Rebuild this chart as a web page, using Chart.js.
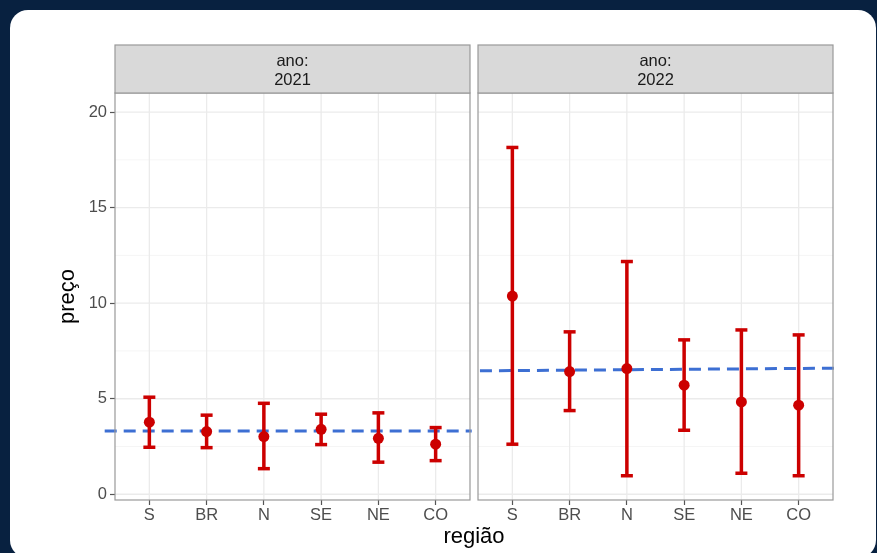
<!DOCTYPE html>
<html>
<head>
<meta charset="utf-8">
<script src="https://cdn.jsdelivr.net/npm/chart.js@4.4.1/dist/chart.umd.min.js"></script>
<style>
  html, body { margin: 0; padding: 0; width: 877px; height: 553px; overflow: hidden; background: #082140; }
  #card { position: absolute; left: 10px; top: 10px; width: 866px; height: 548px; background: #ffffff; border-radius: 18px; }
  #c { position: absolute; left: 0; top: 0; }
</style>
</head>
<body>
<div id="card"></div>
<canvas id="c" width="877" height="553"></canvas>
<script>
// Regiões e anos (facetas)
const regioes = ['S', 'BR', 'N', 'SE', 'NE', 'CO'];
const anos = ['2021', '2022'];

// Preço médio e intervalo por região, 2021
const media2021 = [3.77, 3.28, 3.02, 3.40, 2.93, 2.62];
const inf2021   = [2.46, 2.44, 1.34, 2.60, 1.68, 1.76];
const sup2021   = [5.08, 4.14, 4.76, 4.19, 4.26, 3.49];

// Preço médio e intervalo por região, 2022
const media2022 = [10.37, 6.42, 6.58, 5.71, 4.83, 4.66];
const inf2022   = [2.62, 4.38, 0.97, 3.35, 1.10, 0.97];
const sup2022   = [18.15, 8.50, 12.18, 8.08, 8.60, 8.34];

// Linha de referência (início, fim) em cada ano
const ref2021 = [3.31, 3.31];
const ref2022 = [6.46, 6.60];

// Marcas do eixo y
const yTicks = [0, 5, 10, 15, 20];
const yMinor = [2.5, 7.5, 12.5, 17.5];

// Geometria das facetas no eixo x contínuo
const EXP = 0.6;                   // expansão de cada lado da faceta
const GAP = 0.14;                  // espaço entre facetas
const N = regioes.length;
const panels = [0, 1].map(k => {
  const offset = k * (N - 1 + 2 * EXP + GAP);
  return { offset, min: offset - EXP, max: offset + N - 1 + EXP };
});
const pos = (k, i) => panels[k].offset + i;

const medias = [media2021, media2022];
const infs = [inf2021, inf2022];
const sups = [sup2021, sup2022];
const refs = [ref2021, ref2022];

const RED = '#cc0000';
const BLUE = '#3d6fd3';
const FONT = '"Liberation Sans", Arial, sans-serif';

const meanPoints = [];
const intervalPoints = [];
[0, 1].forEach(k => {
  regioes.forEach((r, i) => {
    meanPoints.push({ x: pos(k, i), y: medias[k][i] });
    intervalPoints.push({ x: pos(k, i), y: infs[k][i] });
    intervalPoints.push({ x: pos(k, i), y: sups[k][i] });
    intervalPoints.push({ x: pos(k, i), y: null });
  });
});

const refLine = (k, x0, x1) => ({
  type: 'line',
  data: [{ x: x0, y: refs[k][0] }, { x: x1, y: refs[k][1] }],
  borderColor: BLUE,
  borderWidth: 3,
  borderDash: [12, 7],
  pointRadius: 0,
  clip: false
});

const xTickValues = [];
[0, 1].forEach(k => regioes.forEach((r, i) => xTickValues.push(pos(k, i))));

// Painéis, grade e faixas de título das facetas
const facetPlugin = {
  id: 'facetas',
  beforeDatasetsDraw(chart) {
    const { ctx, chartArea, scales: { x, y } } = chart;
    panels.forEach(p => {
      const l = x.getPixelForValue(p.min), r = x.getPixelForValue(p.max);
      const t = chartArea.top, b = chartArea.bottom;
      ctx.save();
      ctx.strokeStyle = '#f3f3f3';
      ctx.lineWidth = 0.8;
      yMinor.forEach(v => {
        const py = y.getPixelForValue(v);
        ctx.beginPath(); ctx.moveTo(l, py); ctx.lineTo(r, py); ctx.stroke();
      });
      ctx.strokeStyle = '#ebebeb';
      ctx.lineWidth = 1.3;
      yTicks.forEach(v => {
        const py = y.getPixelForValue(v);
        ctx.beginPath(); ctx.moveTo(l, py); ctx.lineTo(r, py); ctx.stroke();
      });
      regioes.forEach((rg, i) => {
        const px = x.getPixelForValue(p.offset + i);
        ctx.beginPath(); ctx.moveTo(px, t); ctx.lineTo(px, b); ctx.stroke();
      });
      ctx.restore();
    });
  },
  afterDatasetsDraw(chart) {
    const { ctx, chartArea, scales: { x } } = chart;
    panels.forEach(p => {
      const l = x.getPixelForValue(p.min), r = x.getPixelForValue(p.max);
      ctx.save();
      ctx.strokeStyle = '#999999';
      ctx.lineWidth = 1.2;
      ctx.strokeRect(l, chartArea.top, r - l, chartArea.bottom - chartArea.top);
      ctx.restore();
    });
  },
  afterDraw(chart) {
    const { ctx, chartArea, scales: { x } } = chart;
    const stripTop = 45;
    panels.forEach((p, k) => {
      const l = x.getPixelForValue(p.min), r = x.getPixelForValue(p.max);
      ctx.save();
      ctx.fillStyle = '#d9d9d9';
      ctx.fillRect(l, stripTop, r - l, chartArea.top - stripTop);
      ctx.strokeStyle = '#999999';
      ctx.lineWidth = 1.2;
      ctx.strokeRect(l, stripTop, r - l, chartArea.top - stripTop);
      ctx.fillStyle = '#1a1a1a';
      ctx.font = '16.5px ' + FONT;
      ctx.textAlign = 'center';
      ctx.textBaseline = 'middle';
      const cx = (l + r) / 2;
      ctx.fillText('ano:', cx, 61);
      ctx.fillText(anos[k], cx, 80);
      ctx.restore();
    });
  }
};

Chart.defaults.font.family = FONT;

new Chart(document.getElementById('c'), {
  type: 'scatter',
  data: {
    datasets: [
      {
        label: 'média',
        data: meanPoints,
        showLine: false,
        pointRadius: 5.5,
        pointBackgroundColor: RED,
        pointBorderWidth: 0,
        clip: false
      },
      {
        type: 'line',
        label: 'intervalo',
        data: intervalPoints,
        showLine: true,
        spanGaps: false,
        borderColor: RED,
        borderWidth: 3.5,
        pointStyle: 'line',
        pointRadius: 6,
        pointBorderWidth: 3.5,
        pointBorderColor: RED,
        clip: false
      },
      refLine(0, -0.78, 5.63),
      refLine(1, 5.774, 11.97)
    ]
  },
  options: {
    responsive: false,
    animation: false,
    devicePixelRatio: 1,
    layout: { padding: { left: 55, right: 44, top: 93, bottom: 0 } },
    plugins: { legend: { display: false }, tooltip: { enabled: false } },
    scales: {
      x: {
        type: 'linear',
        min: panels[0].min,
        max: panels[1].max,
        afterBuildTicks(scale) { scale.ticks = xTickValues.map(v => ({ value: v })); },
        afterFit(scale) { scale.height = 53; },
        ticks: {
          autoSkip: false,
          maxRotation: 0,
          padding: 1,
          color: '#4d4d4d',
          font: { size: 16.5 },
          callback: (v, i) => regioes[i % N]
        },
        grid: { drawOnChartArea: false, drawTicks: true, tickLength: 5, tickColor: '#555555', tickWidth: 1.2 },
        border: { display: false },
        title: { display: true, text: 'região', color: '#000000', font: { size: 22 }, padding: { bottom: 3, top: 0 } }
      },
      y: {
        min: -0.3,
        max: 21.0,
        afterBuildTicks(scale) { scale.ticks = yTicks.map(v => ({ value: v })); },
        afterFit(scale) { scale.width = 60; },
        ticks: { padding: 3, color: '#4d4d4d', font: { size: 16.5 } },
        grid: { drawOnChartArea: false, drawTicks: true, tickLength: 5, tickColor: '#555555', tickWidth: 1.2 },
        border: { display: false },
        title: { display: true, text: 'preço', color: '#000000', font: { size: 22 }, padding: { top: 0, bottom: 0 } }
      }
    }
  },
  plugins: [facetPlugin]
});
</script>
</body>
</html>
